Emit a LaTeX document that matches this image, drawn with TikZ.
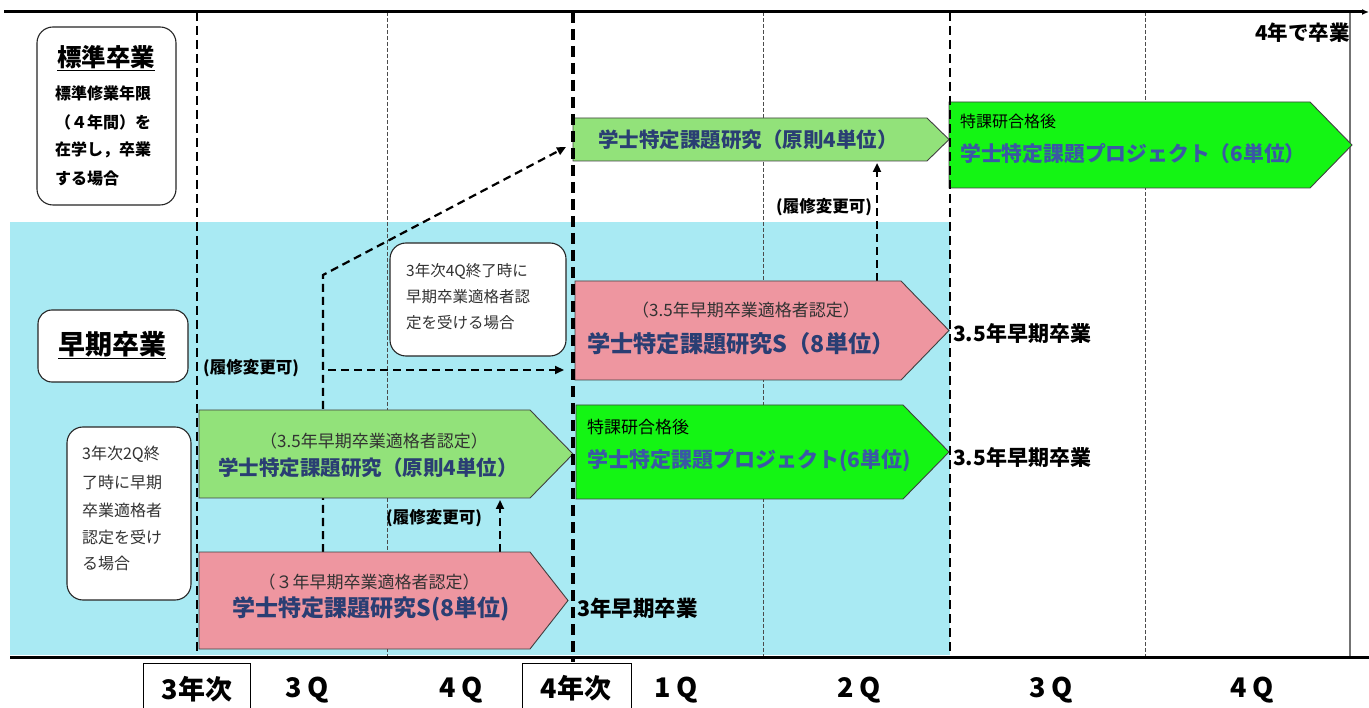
\documentclass[tikz,border=0pt]{standalone}
\usepackage{fontspec}
\setmainfont{Noto Sans CJK JP}
\usetikzlibrary{arrows.meta,calc}
\pgfdeclarelayer{bg}
\pgfdeclarelayer{conn}
\pgfsetlayers{bg,conn,main}
\definecolor{bgcyan}{RGB}{169,234,243}
\definecolor{lgreen}{RGB}{146,226,122}
\definecolor{bgreen}{RGB}{20,245,20}
\definecolor{pinkc}{RGB}{238,150,160}
\definecolor{navy}{RGB}{42,62,115}
\definecolor{blueT}{RGB}{58,88,165}
\definecolor{subgray}{RGB}{50,50,50}
\newcommand\myfs[1]{\fontsize{#1}{#1}\selectfont}
% name, x1, y1, x2 (body right), y2, tip x, fill
\newcommand\penta[7]{%
  \node[body, minimum width=#4-#2, minimum height=#5-#3] (#1) at (#2,#3) {};
  \draw[shapeline, fill=#7] (#1.north west) -- (#1.north east) -- (#6,{(#3+#5)/2}) -- (#1.south east) -- (#1.south west) -- cycle;
}
\tikzset{
  body/.style={draw=none, inner sep=0pt, outer sep=0pt, anchor=north west},
  shapeline/.style={draw=black!75, line width=0.9pt},
  rbox/.style={draw=black!85, line width=1.1pt, fill=white, rounded corners=16pt},
  dline/.style={line width=2.2pt, dash pattern=on 8pt off 5pt},
  tipa/.style={-{Triangle[length=9pt,width=8pt]}},
  minorv/.style={line width=0.9pt, black!70, dash pattern=on 4pt off 2pt},
  ttl/.style={inner sep=0pt, text=navy, font=\bfseries\myfs{20}},
  sub/.style={inner sep=0pt, text=subgray, font=\myfs{17}},
  lbl/.style={inner sep=0pt, anchor=west, font=\bfseries\myfs{21}},
  chg/.style={inner sep=0pt, anchor=west, font=\bfseries\myfs{16.5}},
  boxtxt/.style={inner sep=0pt, anchor=west, text=subgray},
  axis/.style={inner sep=0pt, font=\bfseries\myfs{27}},
}
\begin{document}
\begin{tikzpicture}[x=1pt,y=-1pt]
\useasboundingbox (0,0) rectangle (1369,708);
\begin{pgfonlayer}{bg}
\fill[white] (0,0) rectangle (1369,708);
\fill[bgcyan] (10,222) rectangle (950,655);
\draw[minorv] (387,12) -- (387,657);
\draw[minorv] (763,12) -- (763,657);
\draw[minorv] (1145,12) -- (1145,657);
\draw[line width=1.2pt, black!55] (1350,12) -- (1350,657);
\end{pgfonlayer}

% arrow shapes
\penta{A1}{573}{118}{927}{161}{949}{lgreen}
\penta{A2}{949}{102}{1310}{188}{1352}{bgreen}
\penta{A3}{575}{281}{901}{380}{949}{pinkc}
\penta{A4}{576}{405}{903}{499}{949}{bgreen}
\penta{A5}{199}{410}{530}{498}{573}{lgreen}
\penta{P2}{199}{552}{530}{649}{568}{pinkc}

% connectors
\coordinate (k1) at (323,275);
\coordinate (k2) at (323,370);
\coordinate (k3) at (500,0);
\coordinate (k4) at (877,0);
\begin{pgfonlayer}{conn}
\draw[dline, tipa] (P2.north -| k1) -- (k1) -- ($(A1.west)+(-7,7.5)$);
\draw[dline, tipa] ($(k2)+(5,0)$) -- ($(A3.west |- k2)+(-11,0)$);
\draw[dline, tipa] (P2.north -| k3) -- ($(A5.south -| k3)+(0,2)$);
\draw[dline, tipa] (A3.north -| k4) -- ($(A1.south -| k4)+(0,2)$);
\end{pgfonlayer}

% major dashed lines
\draw[line width=2.4pt, dash pattern=on 9pt off 5pt] (197,12) -- (197,659);
\draw[line width=3.2pt, dash pattern=on 11pt off 6pt] (573,12) -- (573,662);
\draw[line width=2.4pt, dash pattern=on 9pt off 5pt] (950,12) -- (950,657);
% axes
\draw[line width=3pt, -{Latex[length=7pt,width=6pt]}] (4,12) -- (1369,12);
\draw[line width=3pt] (10,657) -- (1369,657);

% white boxes
\draw[rbox] (37,27) rectangle (176,205);
\node[inner sep=0pt] (stdbox) at (106,116) {};
\draw[rbox, rounded corners=14pt] (38,310) rectangle (188,382);
\node[inner sep=0pt] (earlybox) at (113,346) {};
\draw[rbox] (390,243) rectangle (566,356);
\node[inner sep=0pt] (q4box) at (478,300) {};
\draw[rbox] (67,427) rectangle (191,600);
\node[inner sep=0pt] (q2box) at (129,513) {};

% box texts
\node[inner sep=0pt, font=\bfseries\myfs{24.5}] (stdt) at (106,58) {\underline{標準卒業}};
\node[boxtxt, text=black, font=\bfseries\myfs{16}] (s1) at (55,93) {標準修業年限};
\node[boxtxt, text=black, font=\bfseries\myfs{16}] (s2) at (55,122) {（４年間）を};
\node[boxtxt, text=black, font=\bfseries\myfs{16}] (s3) at (55,150) {在学し，卒業};
\node[boxtxt, text=black, font=\bfseries\myfs{16}] (s4) at (55,178) {する場合};
\node[inner sep=0pt, font=\bfseries\myfs{27}] (earlyt) at (112,345) {\underline{早期卒業}};
\node[boxtxt, font=\myfs{15.5}] (q4a) at (406,271) {3年次4Q終了時に};
\node[boxtxt, font=\myfs{15.5}] (q4b) at (406,297) {早期卒業適格者認};
\node[boxtxt, font=\myfs{15.5}] (q4c) at (406,323) {定を受ける場合};
\node[boxtxt, font=\myfs{16}] (q2a) at (82,454) {3年次2Q終};
\node[boxtxt, font=\myfs{16}] (q2b) at (82,482) {了時に早期};
\node[boxtxt, font=\myfs{16}] (q2c) at (82,510) {卒業適格者};
\node[boxtxt, font=\myfs{16}] (q2d) at (82,537) {認定を受け};
\node[boxtxt, font=\myfs{16}] (q2e) at (82,563) {る場合};

% arrow texts
\node[ttl, font=\bfseries\myfs{20.5}] (A1t) at (748,140) {学士特定課題研究（原則4単位）};
\node[sub, anchor=west, text=black, font=\myfs{16}] (A2s) at (960,121) {特課研合格後};
\node[ttl, anchor=west, text=blueT, font=\bfseries\myfs{20.8}] (A2t) at (960,154) {学士特定課題プロジェクト（6単位）};
\node[sub] (A3s) at (746,310) {（3.5年早期卒業適格者認定）};
\node[ttl, font=\bfseries\myfs{23.2}] (A3t) at (741,344) {学士特定課題研究S（8単位）};
\node[sub, anchor=west, text=black] (A4s) at (587,427) {特課研合格後};
\node[ttl, anchor=west, text=blueT, font=\bfseries\myfs{21}] (A4t) at (587,461) {学士特定課題プロジェクト(6単位)};
\node[sub] (A5s) at (374,441) {（3.5年早期卒業適格者認定）};
\node[ttl, font=\bfseries\myfs{20.5}] (A5t) at (368,468) {学士特定課題研究（原則4単位）};
\node[sub] (P2s) at (369,582) {（３年早期卒業適格者認定）};
\node[ttl, font=\bfseries\myfs{23}] (P2t) at (371,609) {学士特定課題研究S(8単位)};

% outcome labels
\node[lbl] (g35a) at (953,334) {3.5年早期卒業};
\node[lbl] (g35b) at (953,458) {3.5年早期卒業};
\node[lbl, font=\bfseries\myfs{21.5}] (g3) at (577,608) {3年早期卒業};
\node[lbl, anchor=east, font=\bfseries\myfs{20.5}] (g4) at (1350,33) {4年で卒業};
\node[chg] (ch1) at (203,368) {(履修変更可)};
\node[chg] (ch2) at (386,518) {(履修変更可)};
\node[chg] (ch3) at (776,207) {(履修変更可)};

% axis labels
\draw[line width=0.9pt] (143,715) -- (143,663) -- (250,663) -- (250,715);
\draw[line width=0.9pt] (522,715) -- (522,663) -- (631,663) -- (631,715);
\node[axis] (y3) at (197,689) {3年次};
\node[axis] (q3a) at (307,690) {3\hspace{5pt}Q};
\node[axis] (q4a1) at (461,690) {4\hspace{5pt}Q};
\node[axis] (y4) at (576,688) {4年次};
\node[axis] (q1) at (676,690) {1\hspace{5pt}Q};
\node[axis] (q2) at (859,690) {2\hspace{5pt}Q};
\node[axis] (q3b) at (1051,690) {3\hspace{5pt}Q};
\node[axis] (q4b) at (1252,690) {4\hspace{5pt}Q};
\end{tikzpicture}
\end{document}
